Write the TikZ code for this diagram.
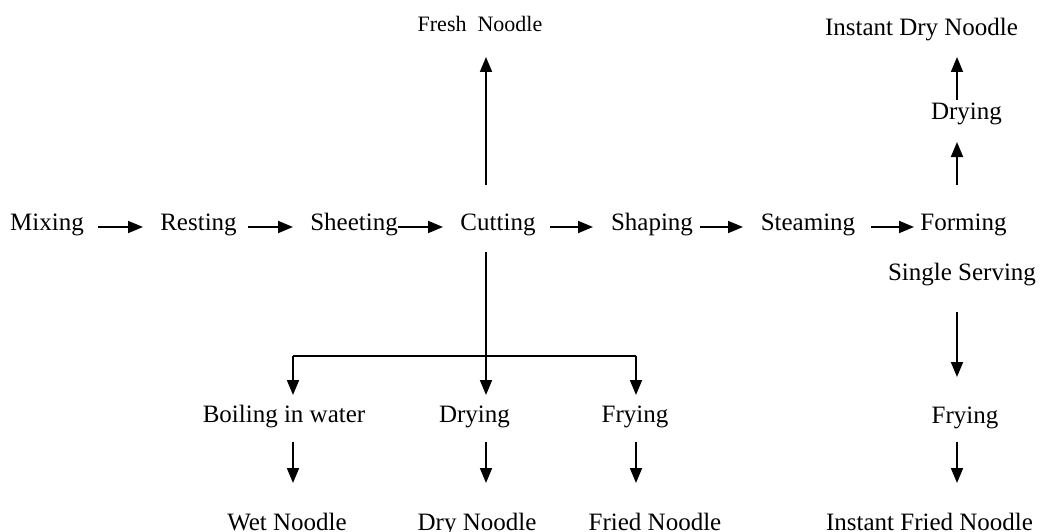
\documentclass[tikz,border=0pt]{standalone}
\usepackage{fontspec}
\setmainfont{Liberation Serif}
\usetikzlibrary{arrows.meta}
\begin{document}
\begin{tikzpicture}[x=1pt,y=-1pt,
  lbl/.style={font=\fontsize{25}{30}\selectfont, inner sep=0pt, anchor=base},
  lblsmall/.style={font=\fontsize{22}{26}\selectfont, inner sep=0pt, anchor=base},
  arr/.style={line width=1.8pt, -{Triangle[length=15pt,width=12pt]}},
  ln/.style={line width=1.8pt}]
\useasboundingbox (0,0) rectangle (1041,532);
% main row
\node[lbl] (mix) at (47,230) {Mixing};
\node[lbl] (rest) at (198.5,230) {Resting};
\node[lbl] (sheet) at (354,230) {Sheeting};
\node[lbl] (cut) at (498,230) {Cutting};
\node[lbl] (shape) at (652,230) {Shaping};
\node[lbl] (steam) at (808,230) {Steaming};
\node[lbl] (form) at (963.5,230) {Forming};
% top
\node[lblsmall] (fresh) at (480,32) {Fresh\ \ Noodle};
\node[lbl] (idry) at (921.5,36) {Instant Dry Noodle};
\node[lbl] (dry1) at (966.5,120) {Drying};
% right bottom
\node[lbl] (single) at (962,280) {Single Serving};
\node[lbl] (fry2) at (965,423) {Frying};
\node[lbl] (ifried) at (929.5,530) {Instant Fried Noodle};
% bottom branches
\node[lbl] (boil) at (284,422) {Boiling in water};
\node[lbl] (dry2) at (474.5,422) {Drying};
\node[lbl] (fry1) at (635,422) {Frying};
\node[lbl] (wet) at (287,530) {Wet Noodle};
\node[lbl] (drynd) at (477,530) {Dry Noodle};
\node[lbl] (fried) at (655,530) {Fried Noodle};
% main row arrows
\draw[arr] (98,227) -- (143,227);
\draw[arr] (248,227) -- (293,227);
\draw[arr] (398,227) -- (443,227);
\draw[arr] (550,227) -- (593,227);
\draw[arr] (700,227) -- (743,227);
\draw[arr] (871,227) -- (914,227);
% cutting up
\draw[arr] (486,185) -- (486,57);
% forming up
\draw[arr] (957,185) -- (957,142);
\draw[arr] (957,100) -- (957,57);
% single serving down
\draw[arr] (957,312) -- (957,377);
\draw[arr] (957,442) -- (957,483);
% cutting down branches
\draw[arr] (486,252) -- (486,395);
\draw[ln] (293,356) -- (636,356);
\draw[arr] (293,356) -- (293,395);
\draw[arr] (636,356) -- (636,395);
\draw[arr] (293,442) -- (293,483);
\draw[arr] (486,442) -- (486,483);
\draw[arr] (636,442) -- (636,483);
\end{tikzpicture}
\end{document}
